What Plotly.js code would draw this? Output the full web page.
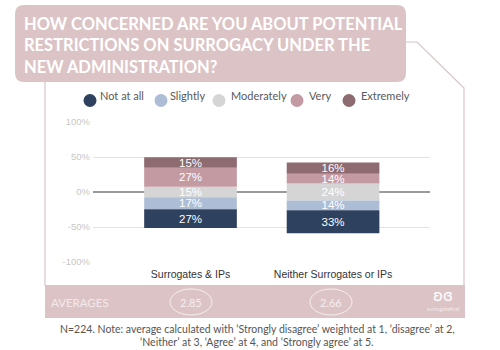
<!DOCTYPE html>
<html><head><meta charset="utf-8">
<script src="https://cdn.plot.ly/plotly-3.0.1.min.js"></script>
<style>html,body{margin:0;padding:0;background:#fff}#chart{width:500px;height:350px}</style>
</head><body><div id="chart"></div>
<script>
// ---- data ----
const categories = ['Surrogates & IPs', 'Neither Surrogates or IPs'];
const levels = ['Not at all', 'Slightly', 'Moderately', 'Very', 'Extremely'];
const notAtAll = [27, 33];
const slightly = [17, 14];
const moderately = [15, 24];
const very = [27, 14];
const extremely = [15, 16];
const averages = ['2.85', '2.66'];
const yTickVals = [-100, -50, 0, 50, 100];
const yTickText = ['-100%', '-50%', '0%', '50%', '100%'];
const titleText = 'HOW CONCERNED ARE YOU ABOUT POTENTIAL<br>RESTRICTIONS ON SURROGACY UNDER THE<br>NEW ADMINISTRATION?';
const noteLines = ['N=224. Note: average calculated with \u2018Strongly disagree\u2019 weighted at 1, \u2018disagree\u2019 at 2,',
                   '\u2018Neither\u2019 at 3, \u2018Agree\u2019 at 4, and \u2018Strongly agree\u2019 at 5.'];

// ---- style ----
const levelColors = ['#2e415e', '#adbdd6', '#d5d5d5', '#c49aa2', '#8d6b70'];
const W = 500, H = 350, M = {l: 93, r: 70, t: 122, b: 88};
const PW = W - M.l - M.r, PH = H - M.t - M.b;
const px = v => (v - M.l) / PW;
const py = v => (H - M.b - v) / PH;
const pink = '#dcc4c6';
const frameCol = '#d8c4c6';
const font = 'Lato, "Open Sans", sans-serif';

// diverging bases
const half = moderately.map(m => m / 2);
const series = [
  {name: levels[2], vals: moderately, base: half.map(h => -h), color: levelColors[2]},
  {name: levels[1], vals: slightly, base: half.map((h, i) => -h - slightly[i]), color: levelColors[1]},
  {name: levels[0], vals: notAtAll, base: half.map((h, i) => -h - slightly[i] - notAtAll[i]), color: levelColors[0]},
  {name: levels[3], vals: very, base: half.map(h => h), color: levelColors[3]},
  {name: levels[4], vals: extremely, base: half.map((h, i) => h + very[i]), color: levelColors[4]}
];

const traces = series.map(s => ({
  type: 'bar', name: s.name, x: categories, y: s.vals, base: s.base,
  width: 0.65, marker: {color: s.color, line: {width: 0}},
  text: s.vals.map(v => v + '%'), textposition: 'inside', insidetextanchor: 'middle',
  constraintext: 'none', textangle: 0,
  textfont: {color: '#ffffff', size: 11.5, family: 'Arial, "Liberation Sans", sans-serif'},
  hoverinfo: 'skip', showlegend: false
}));

// rounded rect path in paper coords
function roundRect(x0, y0, x1, y1, r) {
  const rx = r / PW, ry = r / PH;
  const X0 = px(x0), X1 = px(x1), Y0 = py(y0), Y1 = py(y1); // Y0 top (bigger)
  return `M${X0 + rx},${Y0} L${X1 - rx},${Y0} Q${X1},${Y0} ${X1},${Y0 - ry} ` +
         `L${X1},${Y1 + ry} Q${X1},${Y1} ${X1 - rx},${Y1} L${X0 + rx},${Y1} ` +
         `Q${X0},${Y1} ${X0},${Y1 + ry} L${X0},${Y0 - ry} Q${X0},${Y0} ${X0 + rx},${Y0} Z`;
}

const shapes = [
  // frame lines
  {type: 'path', xref: 'paper', yref: 'paper', layer: 'below',
   path: `M${px(45)},${py(82)} L${px(45)},${py(286)}`, line: {color: frameCol, width: 1.2}},
  {type: 'path', xref: 'paper', yref: 'paper', layer: 'below',
   path: `M${px(405)},${py(42)} L${px(417)},${py(42)} L${px(464)},${py(88)} L${px(464)},${py(286)}`,
   line: {color: frameCol, width: 1.2}},
  // title box
  {type: 'path', xref: 'paper', yref: 'paper', path: roundRect(15, 5, 406, 82, 9),
   fillcolor: pink, line: {width: 0}},
  // averages band
  {type: 'rect', xref: 'paper', yref: 'paper', x0: px(45), x1: px(465), y0: py(285), y1: py(318),
   fillcolor: pink, line: {width: 0}}
];
const annotations = [
  {xref: 'paper', yref: 'paper', x: px(22), y: py(46), xanchor: 'left', yanchor: 'middle', align: 'left',
   showarrow: false, text: titleText,
   font: {family: font, size: 16.5, color: '#ffffff', weight: 700}},
  {xref: 'paper', yref: 'paper', x: px(49), y: py(302), xanchor: 'left', yanchor: 'middle', showarrow: false,
   text: 'AVERAGES', font: {family: font, size: 11.5, color: '#f3e9ea'}},
  {xref: 'paper', yref: 'paper', x: px(443), y: py(296), xanchor: 'center', yanchor: 'middle', showarrow: false,
   text: '\u029A\u025E', font: {family: 'DejaVu Sans', size: 15, color: '#ffffff'}},
  {xref: 'paper', yref: 'paper', x: px(443), y: py(309), xanchor: 'center', yanchor: 'middle', showarrow: false,
   text: 'surrogatefirst', font: {family: font, size: 5.5, color: '#f3e9ea'}}
];
// legend (manual, circle markers)
const legCircleX = [90, 161, 219, 297, 349];
const legTextX = [98, 168, 229, 307, 359];
levels.forEach((lv, i) => {
  shapes.push({type: 'circle', xref: 'paper', yref: 'paper',
    x0: px(legCircleX[i] - 6.5), x1: px(legCircleX[i] + 6.5), y0: py(107), y1: py(94),
    fillcolor: levelColors[i], line: {width: 0}});
  annotations.push({xref: 'paper', yref: 'paper', x: px(legTextX[i]), y: py(95), xanchor: 'left', yanchor: 'middle',
    showarrow: false, text: lv, font: {family: font, size: 11, color: '#595959'}});
});
// averages circles
const avgX = [191, 331];
averages.forEach((a, i) => {
  shapes.push({type: 'circle', xref: 'paper', yref: 'paper',
    x0: px(avgX[i] - 21), x1: px(avgX[i] + 21), y0: py(315), y1: py(289),
    line: {color: 'rgba(255,255,255,0.7)', width: 1}});
  annotations.push({xref: 'paper', yref: 'paper', x: px(avgX[i]), y: py(302), xanchor: 'center', yanchor: 'middle',
    showarrow: false, text: a, font: {family: font, size: 11, color: '#f6eeef'}});
});
// footnote
const noteY = [329, 342];
noteLines.forEach((t, i) => {
  annotations.push({xref: 'paper', yref: 'paper', x: px(257), y: py(noteY[i]), xanchor: 'center', yanchor: 'middle',
    showarrow: false, text: t, font: {family: font, size: 10.5, color: '#555555'}});
});

const layout = {
  width: W, height: H, margin: M, paper_bgcolor: '#ffffff', plot_bgcolor: '#ffffff',
  barmode: 'overlay', showlegend: false,
  xaxis: {type: 'category', range: [-0.684, 1.68], showgrid: false, zeroline: false, showline: false,
          ticks: '', ticklabelstandoff: 4,
          tickfont: {family: 'Arial, "Liberation Sans", sans-serif', size: 10.5, color: '#333333'}},
  yaxis: {range: [-100, 100], tickvals: yTickVals, ticktext: yTickText, showgrid: true,
          gridcolor: '#e3e3e3', gridwidth: 1, zeroline: true, zerolinecolor: '#9a9a9a', zerolinewidth: 1.5,
          showline: false, ticks: '', ticklabelstandoff: 2,
          tickfont: {family: 'Arial, "Liberation Sans", sans-serif', size: 9.5, color: '#c8c8c8'}},
  shapes: shapes, annotations: annotations
};
Plotly.newPlot('chart', traces, layout, {staticPlot: true, displayModeBar: false});
</script></body></html>
